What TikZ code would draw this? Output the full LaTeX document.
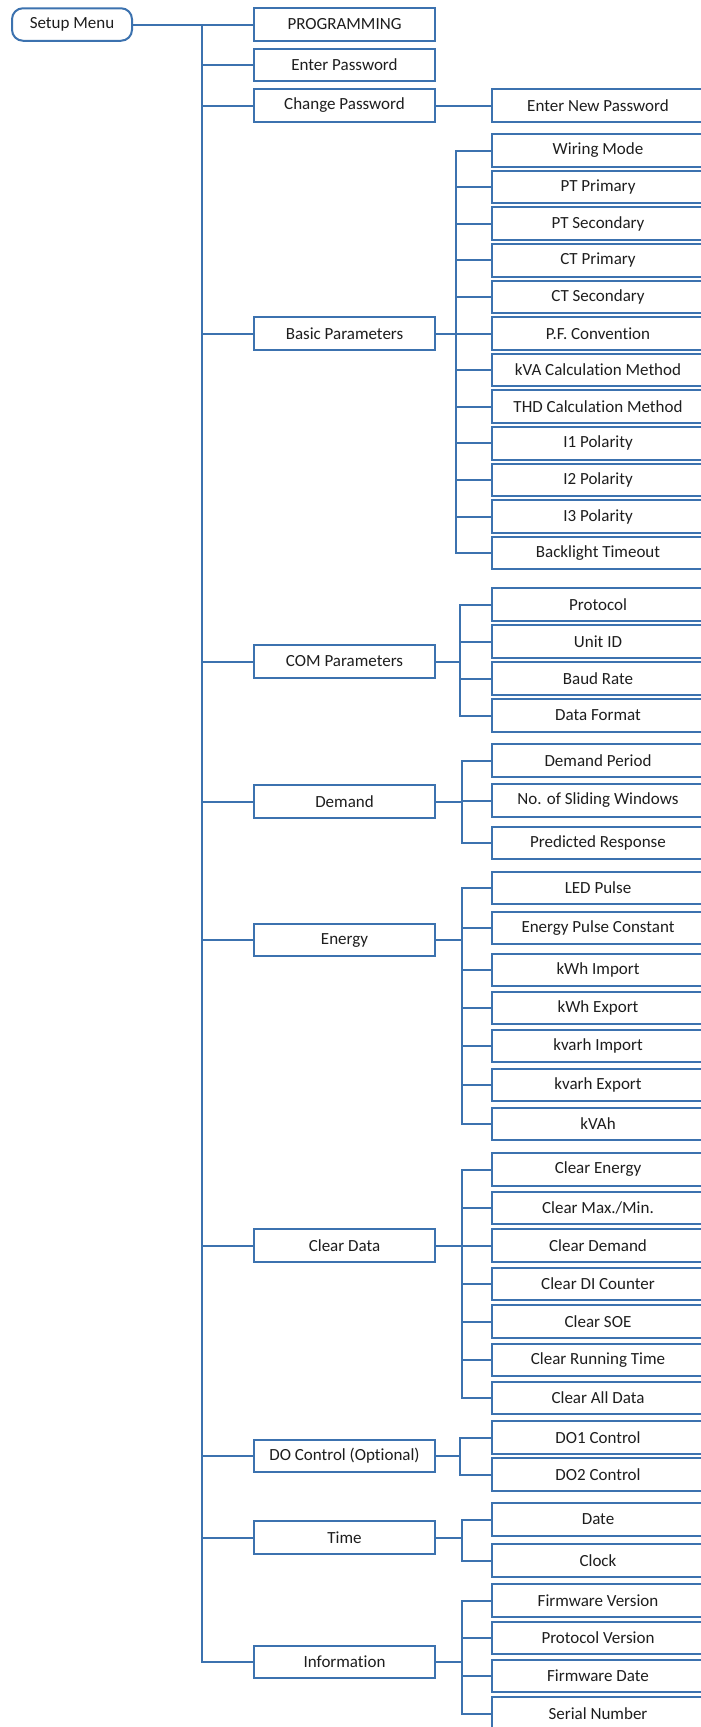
\documentclass[tikz,border=0pt]{standalone}
\usepackage{fontspec}
\setmainfont{Carlito}[Ligatures=NoCommon,Contextuals=NoAlternate]
\definecolor{lineblue}{RGB}{60,114,175}
\definecolor{txt}{RGB}{30,30,30}
\begin{document}
\begin{tikzpicture}[x=1pt,y=-1pt,
  every node/.style={font=\fontsize{17}{20}\selectfont, text=txt},
  box/.style={draw=lineblue, line width=2pt, fill=white, minimum height=32.5pt, inner sep=0pt},
  lone/.style={box, minimum width=181pt},
  ltwo/.style={box, minimum width=212pt},
  conn/.style={draw=lineblue, line width=2pt}]
\useasboundingbox (0,0) rectangle (701,1727);
\clip (0,0) rectangle (701,1727);
% root
\node[box, rounded corners=11pt, minimum width=120pt] (root) at (72,24.5) {Setup Menu};
% level 1
\node[lone] (p1) at (344.5,24.5) {PROGRAMMING};
\node[lone] (p2) at (344.5,65) {Enter Password};
\node[lone] (p3) at (344.5,105.5) {Change Password};
\node[lone] (p4) at (344.5,333.5) {Basic Parameters};
\node[lone] (p5) at (344.5,661.5) {COM Parameters};
\node[lone] (p6) at (344.5,801.5) {Demand};
\node[lone] (p7) at (344.5,940) {Energy};
\node[lone] (p8) at (344.5,1245.5) {Clear Data};
\node[lone] (p9) at (344.5,1456) {DO Control (Optional)};
\node[lone] (p10) at (344.5,1537.5) {Time};
\node[lone] (p11) at (344.5,1662) {Information};
% level 2
\node[ltwo] (cp1) at (598,105.5) {Enter New Password};
\node[ltwo] (b1) at (598,150.5) {Wiring Mode};
\node[ltwo] (b2) at (598,187.1) {PT Primary};
\node[ltwo] (b3) at (598,223.7) {PT Secondary};
\node[ltwo] (b4) at (598,260.3) {CT Primary};
\node[ltwo] (b5) at (598,296.9) {CT Secondary};
\node[ltwo] (b6) at (598,333.5) {P.F. Convention};
\node[ltwo] (b7) at (598,370.1) {kVA Calculat\kern0pt ion Method};
\node[ltwo] (b8) at (598,406.7) {THD Calculat\kern0pt ion Method};
\node[ltwo] (b9) at (598,443.3) {I1 Polarity};
\node[ltwo] (b10) at (598,479.9) {I2 Polarity};
\node[ltwo] (b11) at (598,516.5) {I3 Polarity};
\node[ltwo] (b12) at (598,553.1) {Backlight Timeout};
\node[ltwo] (m1) at (598,604.5) {Protocol};
\node[ltwo] (m2) at (598,641.5) {Unit ID};
\node[ltwo] (m3) at (598,678.5) {Baud Rate};
\node[ltwo] (m4) at (598,715.5) {Data Format};
\node[ltwo] (d1) at (598,760.5) {Demand Period};
\node[ltwo] (d2) at (598,800.5) {No. of Sliding Windows};
\node[ltwo] (d3) at (598,843) {Predicted Response};
\node[ltwo] (e1) at (598,888) {LED Pulse};
\node[ltwo] (e2) at (598,928) {Energy Pulse Constant};
\node[ltwo] (e3) at (598,970) {kWh Import};
\node[ltwo] (e4) at (598,1008) {kWh Export};
\node[ltwo] (e5) at (598,1046) {kvarh Import};
\node[ltwo] (e6) at (598,1085) {kvarh Export};
\node[ltwo] (e7) at (598,1124) {kVAh};
\node[ltwo] (c1) at (598,1169.5) {Clear Energy};
\node[ltwo] (c2) at (598,1208) {Clear Max./Min.};
\node[ltwo] (c3) at (598,1245.5) {Clear Demand};
\node[ltwo] (c4) at (598,1284) {Clear DI Counter};
\node[ltwo] (c5) at (598,1321.5) {Clear SOE};
\node[ltwo] (c6) at (598,1360) {Clear Running Time};
\node[ltwo] (c7) at (598,1398) {Clear All Data};
\node[ltwo] (o1) at (598,1437.5) {DO1 Control};
\node[ltwo] (o2) at (598,1474.5) {DO2 Control};
\node[ltwo] (t1) at (598,1519.5) {Date};
\node[ltwo] (t2) at (598,1560.5) {Clock};
\node[ltwo] (i1) at (598,1600.5) {Firmware Version};
\node[ltwo] (i2) at (598,1638) {Protocol Version};
\node[ltwo] (i3) at (598,1676) {Firmware Date};
\node[ltwo] (i4) at (598,1713.5) {Serial Number};
% trunk coordinates
\coordinate (T0) at (201.5,0);
\coordinate (TB) at (456,0);
\coordinate (TM) at (460,0);
\coordinate (TD) at (462,0);
\coordinate (TE) at (462,0);
\coordinate (TC) at (462,0);
\coordinate (TO) at (460,0);
\coordinate (TT) at (462,0);
\coordinate (TI) at (462,0);
% main trunk
\draw[conn] (root.east) -- (p1.west);
\draw[conn] (root.east -| T0) -- (p11.west -| T0) -- (p11.west);
\foreach \p in {p2,p3,p4,p5,p6,p7,p8,p9,p10} \draw[conn] (\p.west -| T0) -- (\p.west);
% change password
\draw[conn] (p3.east) -- (cp1.west);
% sub trees
\draw[conn] (p4.east) -- (p4.east -| TB);
\draw[conn] (b1.west) -- (b1.west -| TB) -- (b12.west -| TB) -- (b12.west);
\foreach \c in {b2,b3,b4,b5,b6,b7,b8,b9,b10,b11} \draw[conn] (\c.west -| TB) -- (\c.west);
\draw[conn] (p5.east) -- (p5.east -| TM);
\draw[conn] (m1.west) -- (m1.west -| TM) -- (m4.west -| TM) -- (m4.west);
\foreach \c in {m2,m3} \draw[conn] (\c.west -| TM) -- (\c.west);
\draw[conn] (p6.east) -- (p6.east -| TD);
\draw[conn] (d1.west) -- (d1.west -| TD) -- (d3.west -| TD) -- (d3.west);
\draw[conn] (d2.west -| TD) -- (d2.west);
\draw[conn] (p7.east) -- (p7.east -| TE);
\draw[conn] (e1.west) -- (e1.west -| TE) -- (e7.west -| TE) -- (e7.west);
\foreach \c in {e2,e3,e4,e5,e6} \draw[conn] (\c.west -| TE) -- (\c.west);
\draw[conn] (p8.east) -- (p8.east -| TC);
\draw[conn] (c1.west) -- (c1.west -| TC) -- (c7.west -| TC) -- (c7.west);
\foreach \c in {c2,c3,c4,c5,c6} \draw[conn] (\c.west -| TC) -- (\c.west);
\draw[conn] (p9.east) -- (p9.east -| TO);
\draw[conn] (o1.west) -- (o1.west -| TO) -- (o2.west -| TO) -- (o2.west);
\draw[conn] (p10.east) -- (p10.east -| TT);
\draw[conn] (t1.west) -- (t1.west -| TT) -- (t2.west -| TT) -- (t2.west);
\draw[conn] (p11.east) -- (p11.east -| TI);
\draw[conn] (i1.west) -- (i1.west -| TI) -- (i4.west -| TI) -- (i4.west);
\foreach \c in {i2,i3} \draw[conn] (\c.west -| TI) -- (\c.west);
\end{tikzpicture}
\end{document}
